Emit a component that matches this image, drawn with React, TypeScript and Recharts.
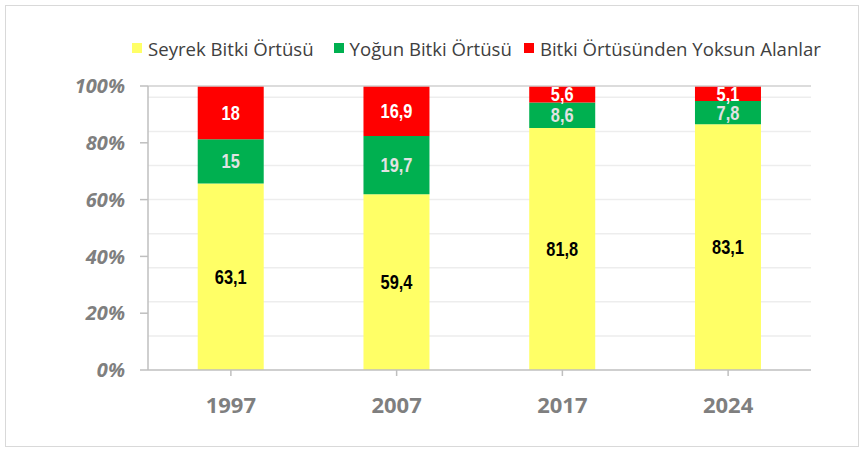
import {
  BarChart,
  Bar,
  XAxis,
  YAxis,
  CartesianGrid,
  Legend,
  LabelList,
  ReferenceLine,
} from 'recharts'

const YEARS = ['1997', '2007', '2017', '2024']
const SEYREK = [63.1, 59.4, 81.8, 83.1]
const YOGUN = [15, 19.7, 8.6, 7.8]
const YOKSUN = [18, 16.9, 5.6, 5.1]

const Y_TICKS = [0, 0.2, 0.4, 0.6, 0.8, 1]
const GRID_VALUES = [
  0.04, 0.08, 0.12, 0.16, 0.2, 0.24, 0.28, 0.32, 0.36, 0.4, 0.44, 0.48, 0.52,
  0.56, 0.6, 0.64, 0.68, 0.72, 0.76, 0.8, 0.84, 0.88, 0.92, 0.96,
]

const SERIES = [
  { key: 'seyrek', name: 'Seyrek Bitki Örtüsü', color: '#FFFF66', label: '#000000' },
  { key: 'yogun', name: 'Yoğun Bitki Örtüsü', color: '#00B050', label: '#E2E2E2' },
  { key: 'yoksun', name: 'Bitki Örtüsünden Yoksun Alanlar', color: '#FF0000', label: '#FFFFFF' },
]

const data = YEARS.map((year, i) => ({
  year,
  seyrek: SEYREK[i],
  yogun: YOGUN[i],
  yoksun: YOKSUN[i],
}))

const fmt = (v: unknown) => String(v).replace('.', ',')

const LABEL_FONT = "'Liberation Sans', Arial, sans-serif"
const AXIS_FONT = "'Open Sans', 'Noto Sans', sans-serif"

// narrow bold label, squeezed horizontally like Arial Narrow
function makeLabel(color: string) {
  return function NarrowLabel(props: any) {
    const vb = props.viewBox ?? props
    const x = Number(vb.x ?? props.x)
    const y = Number(vb.y ?? props.y)
    const w = Number(vb.width ?? props.width)
    const h = Number(vb.height ?? props.height)
    const cx = x + w / 2
    const cy = y + h / 2
    return (
      <text
        x={0}
        y={0}
        textAnchor="middle"
        dominantBaseline="central"
        transform={`translate(${cx} ${cy}) scale(0.82 1)`}
        fill={color}
        fontSize={20}
        fontWeight={700}
        fontFamily={LABEL_FONT}
      >
        {fmt(props.value)}
      </text>
    )
  }
}

function LegendContent() {
  return (
    <div
      style={{
        display: 'flex',
        alignItems: 'center',
        fontFamily: AXIS_FONT,
        fontSize: 18.6,
        color: '#404040',
        whiteSpace: 'nowrap',
        height: 22,
      }}
    >
      {SERIES.map((s, i) => (
        <span
          key={s.key}
          style={{ display: 'flex', alignItems: 'center', marginRight: i === 0 ? 20 : 12 }}
        >
          <span
            style={{
              display: 'inline-block',
              width: 10,
              height: 10,
              background: s.color,
              marginRight: 6,
            }}
          />
          {s.name}
        </span>
      ))}
    </div>
  )
}

export default function App() {
  return (
    <div style={{ position: 'absolute', left: 0, top: 0, width: 862, height: 449, background: '#fff' }}>
      <div
        style={{
          position: 'absolute',
          left: 5,
          top: 5,
          width: 852,
          height: 440,
          border: '1px solid #d9d9d9',
        }}
      />
      <BarChart
        width={862}
        height={449}
        data={data}
        stackOffset="expand"
        barCategoryGap="30%"
        margin={{ top: 64, right: 51, left: 88, bottom: 29 }}
      >
        <CartesianGrid
          vertical={false}
          horizontalValues={GRID_VALUES}
          stroke="#ededed"
          strokeWidth={1.5}
        />
        <XAxis
          dataKey="year"
          height={50}
          tickSize={6}
          tickMargin={21}
          axisLine={{ stroke: '#bfbfbf', strokeWidth: 1.5 }}
          tickLine={{ stroke: '#bfbfbf', strokeWidth: 1.5 }}
          tick={{ fill: '#7f7f7f', fontSize: 22, fontWeight: 700, fontFamily: AXIS_FONT }}
        />
        <YAxis
          width={60}
          domain={[0, 1]}
          ticks={Y_TICKS}
          tickFormatter={(v: number) => `${Math.round(v * 100)}%`}
          tickSize={8}
          tickMargin={15}
          axisLine={{ stroke: '#bfbfbf', strokeWidth: 1.5 }}
          tickLine={{ stroke: '#bfbfbf', strokeWidth: 1.5 }}
          tick={{
            fill: '#7f7f7f',
            fontSize: 20,
            fontWeight: 700,
            fontStyle: 'italic',
            fontFamily: AXIS_FONT,
          }}
        />
        <YAxis
          yAxisId="right"
          orientation="right"
          width={0}
          tick={false}
          tickLine={false}
          axisLine={{ stroke: '#d0d0d0', strokeWidth: 1.5 }}
        />
        <ReferenceLine y={1} stroke="#d0d0d0" strokeWidth={1.5} />
        <Legend
          verticalAlign="top"
          content={<LegendContent />}
          wrapperStyle={{ position: 'absolute', top: 37, left: 132, width: 720 }}
        />
        {SERIES.map((s) => (
          <Bar
            key={s.key}
            dataKey={s.key}
            name={s.name}
            stackId="a"
            fill={s.color}
            isAnimationActive={false}
          >
            <LabelList dataKey={s.key} position="center" content={makeLabel(s.label)} />
          </Bar>
        ))}
      </BarChart>
    </div>
  )
}
